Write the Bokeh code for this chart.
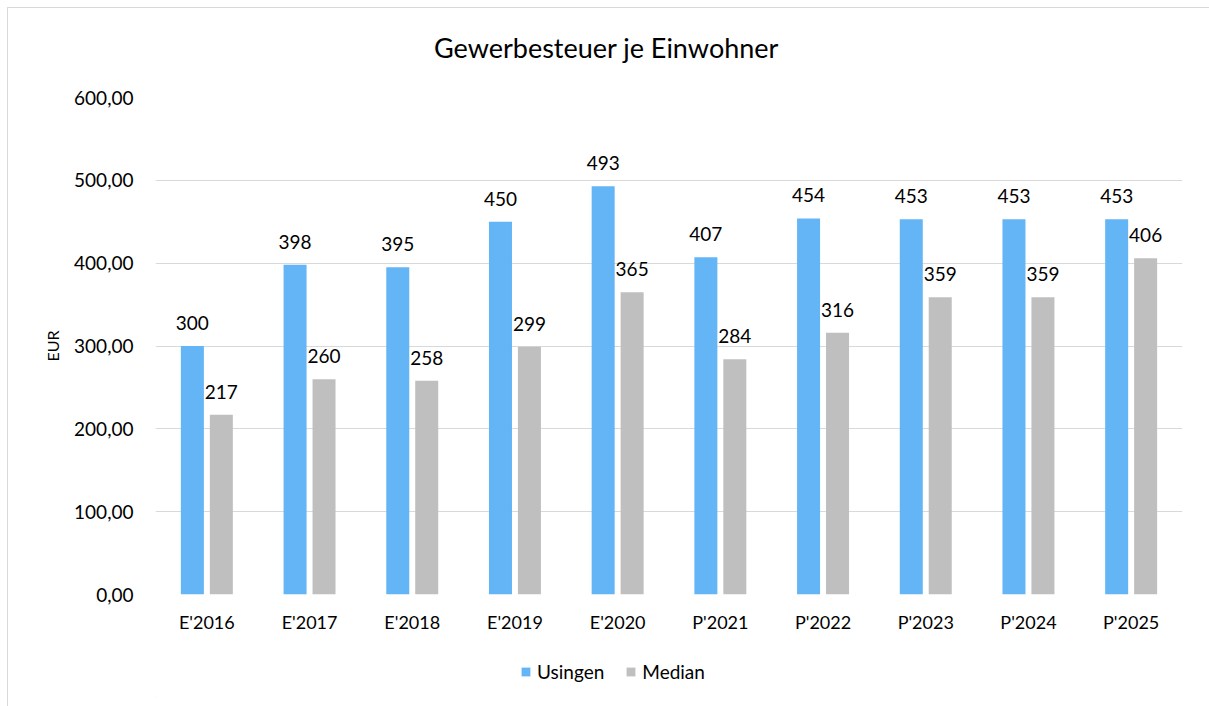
from bokeh.plotting import figure
from bokeh.layouts import column
from bokeh.models import (ColumnDataSource, FactorRange, Range1d, FixedTicker,
                          CustomJSTickFormatter, LabelSet, Label, Legend, LegendItem)
from bokeh.core.properties import value
from bokeh.transform import dodge
from bokeh.embed import file_html
from bokeh.resources import INLINE

categories = ["E'2016", "E'2017", "E'2018", "E'2019", "E'2020",
              "P'2021", "P'2022", "P'2023", "P'2024", "P'2025"]
usingen = [300, 398, 395, 450, 493, 407, 454, 453, 453, 453]
median = [217, 260, 258, 299, 365, 284, 316, 359, 359, 406]
y_ticks = [0, 100, 200, 300, 400, 500, 600]
series_names = ["Usingen", "Median"]
title_text = "Gewerbesteuer je Einwohner"
y_title = "EUR"

FONT = "Lato"
BLUE = "#63B5F6"
GRAY = "#BFBFBF"
TXT = "#000000"
GRID = "#D9D9D9"


def strip(height, bottom=0):
    f = figure(width=1201, height=height, output_backend="svg", toolbar_location=None,
               min_border_left=147, min_border_right=27, min_border_top=0,
               min_border_bottom=bottom, x_axis_location=None, y_axis_location=None,
               x_range=Range1d(0, 1), y_range=Range1d(0, 1))
    f.outline_line_color = None
    f.grid.visible = False
    return f


# title strip
top = strip(70)
top.add_layout(Label(x=451, y=31, x_units="screen", y_units="screen", text=title_text,
                     text_align="center", text_baseline="middle", text_font=FONT,
                     text_font_size="27px", text_color=TXT))

src = ColumnDataSource(dict(
    cat=categories, usingen=usingen, median=median,
    ul=[str(v) for v in usingen], ml=[str(v) for v in median]))

p = figure(x_range=FactorRange(*categories), y_range=Range1d(0, 600),
           width=1201, height=570, output_backend="svg", toolbar_location=None,
           min_border_left=147, min_border_right=27, min_border_top=19,
           min_border_bottom=54)
p.outline_line_color = None

off = 0.141
bw = 0.224
p.vbar(x=dodge("cat", -off, range=p.x_range), top="usingen", width=bw,
       source=src, fill_color=BLUE, line_color=None)
p.vbar(x=dodge("cat", off, range=p.x_range), top="median", width=bw,
       source=src, fill_color=GRAY, line_color=None)

for col, txt, o in (("usingen", "ul", -off), ("median", "ml", off)):
    p.add_layout(LabelSet(x=dodge("cat", o, range=p.x_range), y=col, text=txt,
                          source=src, text_align="center", text_baseline="middle",
                          y_offset=23, text_font=value(FONT), text_font_size="19px",
                          text_color=TXT))

# grid
p.xgrid.grid_line_color = None
p.ygrid.grid_line_color = GRID
p.ygrid.grid_line_width = 1
p.yaxis.ticker = FixedTicker(ticks=y_ticks)

# y axis
p.yaxis.formatter = CustomJSTickFormatter(code="return tick.toFixed(2).replace('.', ',');")
p.yaxis.axis_line_color = None
p.yaxis.major_tick_line_color = None
p.yaxis.minor_tick_line_color = None
p.yaxis.major_tick_out = 0
p.yaxis.minor_tick_out = 0
p.yaxis.major_label_standoff = 22
p.yaxis.major_label_text_font = FONT
p.yaxis.major_label_text_font_size = "19px"
p.yaxis.major_label_text_color = TXT
p.yaxis.axis_label = y_title
p.yaxis.axis_label_text_font = FONT
p.yaxis.axis_label_text_font_size = "16px"
p.yaxis.axis_label_text_font_style = "normal"
p.yaxis.axis_label_text_color = TXT
p.yaxis.axis_label_standoff = 9

# x axis
p.xaxis.axis_line_color = None
p.xaxis.major_tick_line_color = None
p.xaxis.minor_tick_line_color = None
p.xaxis.major_tick_out = 0
p.xaxis.major_label_standoff = 16
p.xaxis.major_label_text_font = FONT
p.xaxis.major_label_text_font_size = "18px"
p.xaxis.major_label_text_color = TXT

# legend strip below the chart
lg = strip(58, bottom=10)
# legend-only swatches, positioned outside the visible range
dummy = ColumnDataSource(dict(x=[-10], top=[-10]))
l1 = lg.vbar(x="x", top="top", width=0.1, source=dummy, fill_color=BLUE, line_color=None)
l2 = lg.vbar(x="x", top="top", width=0.1, source=dummy, fill_color=GRAY, line_color=None)
legend = Legend(items=[LegendItem(label=series_names[0], renderers=[l1]),
                       LegendItem(label=series_names[1], renderers=[l2])],
                orientation="horizontal", location=(365, 13),
                glyph_width=11, glyph_height=11, label_standoff=6, spacing=21,
                padding=0, margin=0, border_line_color=None,
                background_fill_alpha=0, label_text_font=FONT,
                label_text_font_size="19px", label_text_color=TXT,
                label_height=20)
lg.add_layout(legend, "center")

layout = column(top, p, lg, spacing=0)
layout.styles = {"margin-top": "7px", "margin-left": "7px",
                 "border-top": "1px solid #D9D9D9", "border-left": "1px solid #D9D9D9"}

open("out.html", "w").write(file_html(layout, INLINE))
